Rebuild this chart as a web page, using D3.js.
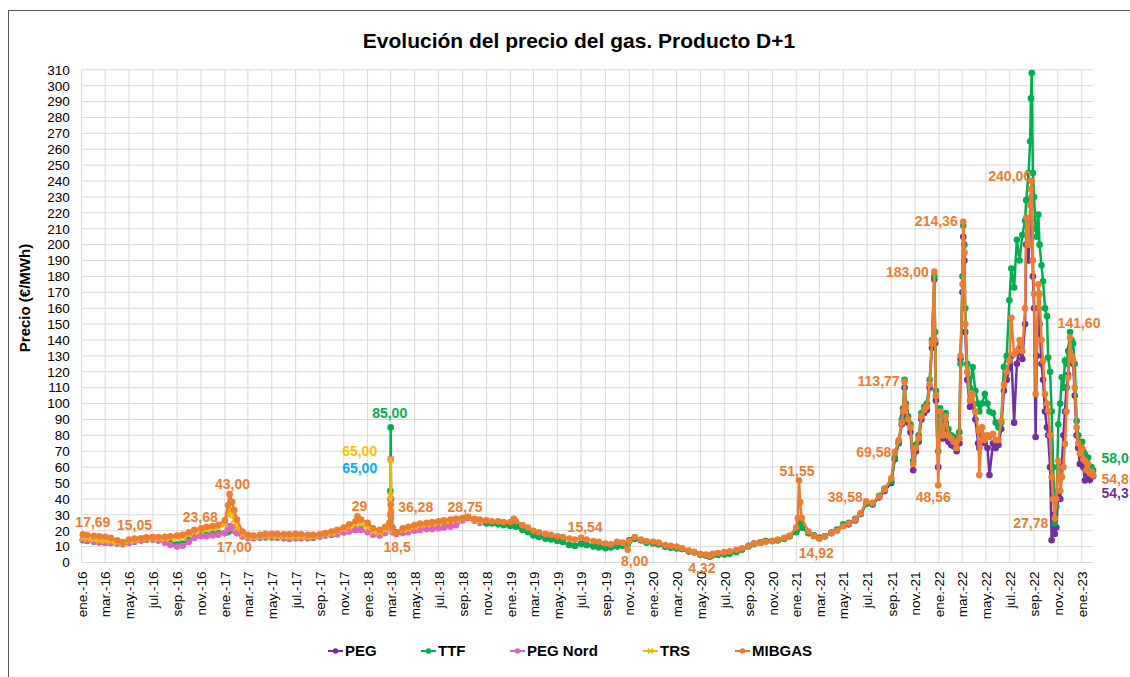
<!DOCTYPE html>
<html>
<head>
<meta charset="utf-8">
<script src="https://cdn.jsdelivr.net/npm/d3@7"></script>
<style>
body { margin: 0; background: #fff; }
svg text { font-family: "Liberation Sans", Arial, sans-serif; }
</style>
</head>
<body>
<svg id="chart" width="1130" height="677"></svg>
<script>
// Fechas comunes a todas las series (lectura aproximada del gráfico)
var fechas = [
    "2016-01-04","2016-01-15","2016-02-01","2016-02-15","2016-03-01","2016-03-15","2016-04-01","2016-04-15","2016-05-01","2016-05-15","2016-06-01","2016-06-15",
    "2016-07-01","2016-07-15","2016-08-01","2016-08-15","2016-09-01","2016-09-15","2016-10-01","2016-10-15","2016-11-01","2016-11-15","2016-12-01","2016-12-15",
    "2017-01-01","2017-01-09","2017-01-13","2017-01-20","2017-01-25","2017-02-01","2017-02-15","2017-03-01","2017-03-15","2017-04-01","2017-04-15","2017-05-01","2017-05-15","2017-06-01",
    "2017-06-15","2017-07-01","2017-07-15","2017-08-01","2017-08-15","2017-09-01","2017-09-15","2017-10-01","2017-10-15","2017-11-01","2017-11-15","2017-12-01","2017-12-06","2017-12-15",
    "2018-01-01","2018-01-15","2018-02-01","2018-02-15","2018-02-26","2018-02-28","2018-03-01","2018-03-02","2018-03-06","2018-03-15","2018-04-01","2018-04-15","2018-05-01","2018-05-15",
    "2018-06-01","2018-06-15","2018-07-01","2018-07-15","2018-08-01","2018-08-15","2018-09-01","2018-09-15","2018-10-01","2018-10-15","2018-11-01","2018-11-15","2018-12-01","2018-12-15",
    "2019-01-01","2019-01-10","2019-01-15","2019-02-01","2019-02-15","2019-03-01","2019-03-15","2019-04-01","2019-04-15","2019-05-01","2019-05-15","2019-06-01","2019-06-15",
    "2019-07-01","2019-07-15","2019-08-01","2019-08-15","2019-09-01","2019-09-15","2019-10-01","2019-10-15","2019-10-28","2019-11-01","2019-11-15","2019-12-01","2019-12-15",
    "2020-01-01","2020-01-15","2020-02-01","2020-02-15","2020-03-01","2020-03-15","2020-04-01","2020-04-15","2020-05-01","2020-05-15","2020-05-25","2020-06-01","2020-06-15",
    "2020-07-01","2020-07-15","2020-08-01","2020-08-15","2020-09-01","2020-09-15","2020-10-01","2020-10-15","2020-11-01","2020-11-15","2020-12-01","2020-12-15",
    "2021-01-01","2021-01-05","2021-01-08","2021-01-11","2021-01-15","2021-02-01","2021-02-15","2021-03-01","2021-03-15","2021-04-01","2021-04-15","2021-05-01","2021-05-15","2021-06-01",
    "2021-06-15","2021-06-29","2021-07-15","2021-08-01","2021-08-15","2021-09-01","2021-09-10","2021-09-20","2021-09-28","2021-10-01","2021-10-05","2021-10-08","2021-10-14","2021-10-20",
    "2021-10-27","2021-11-03","2021-11-10","2021-11-17","2021-11-24","2021-12-01","2021-12-08","2021-12-14","2021-12-20","2021-12-22","2021-12-24","2021-12-30",
    "2022-01-04","2022-01-11","2022-01-18","2022-01-25","2022-02-01","2022-02-08","2022-02-15","2022-02-22","2022-02-25","2022-03-02",
    "2022-03-04","2022-03-07","2022-03-09","2022-03-14","2022-03-21","2022-03-28","2022-04-04","2022-04-11","2022-04-14","2022-04-21",
    "2022-04-28","2022-05-05","2022-05-10","2022-05-19","2022-05-26","2022-06-02","2022-06-09","2022-06-16","2022-06-23","2022-06-30",
    "2022-07-05","2022-07-12","2022-07-19","2022-07-26","2022-08-02","2022-08-09","2022-08-12","2022-08-18","2022-08-22","2022-08-24",
    "2022-08-26","2022-08-29","2022-09-01","2022-09-05","2022-09-08","2022-09-12","2022-09-15","2022-09-20","2022-09-24","2022-09-29",
    "2022-10-04","2022-10-07","2022-10-12","2022-10-16","2022-10-20","2022-10-24","2022-10-28","2022-11-02","2022-11-07","2022-11-11",
    "2022-11-15","2022-11-19","2022-11-23","2022-11-27","2022-12-02","2022-12-06","2022-12-10","2022-12-14","2022-12-19","2022-12-23",
    "2022-12-27",
    "2023-01-02","2023-01-05","2023-01-09","2023-01-13","2023-01-17","2023-01-22","2023-01-26","2023-01-30"
];

var mibgas = [
    17.69,17.2,16.8,16.5,16.2,15.5,14.0,12.8,14.5,15.05,15.3,15.8,16.0,16.0,16.2,16.5,17.0,17.5,19.0,20.5,21.5,22.5,23.0,23.68,
    26.5,36.0,43.0,38.0,33.0,27.0,19.5,17.5,17.0,17.5,18.0,18.0,18.0,17.8,17.8,18.0,17.8,17.5,17.5,17.8,18.5,19.5,20.5,22.0,24.0,26.0,29.0,27.0,
    25.0,21.5,20.5,22.5,24.0,30.0,36.28,28.0,22.0,18.5,21.5,22.5,23.5,24.5,25.0,25.5,26.0,26.5,27.0,27.5,28.0,28.75,27.5,27.0,26.5,26.0,26.0,25.5,
    25.5,27.5,26.0,23.5,22.0,20.0,19.0,18.0,17.5,16.5,16.0,15.0,14.5,15.54,14.5,13.5,13.0,12.0,11.5,13.0,12.5,8.0,13.5,16.0,14.5,13.5,
    13.0,12.5,11.0,10.5,10.0,9.0,7.5,6.5,5.5,5.0,4.32,5.5,6.0,6.5,7.0,8.0,9.0,10.5,12.0,12.5,13.0,13.5,14.5,15.5,17.0,
    22.0,28.0,51.55,38.0,28.0,19.5,16.5,14.92,16.5,18.5,20.0,23.0,24.5,27.0,31.0,38.58,37.5,41.5,46.0,53.0,69.58,77.0,88.0,95.0,113.77,98.0,90.0,85.0,
    62.0,72.0,78.0,92.0,96.0,98.0,112.0,138.0,183.0,140.0,105.0,48.56,
    95,80,92,80,78,76,72,78,130,175,
    214.36,195,150,120,102,106,95,83,55,85,
    77,80,79,81,77,77,89,112,120,127,
    154,131,133,140,133,160,217,200,225,235,
    240,190,169,106,140,175,169,140,127,106,
    100,95.6,80,53.7,40,27.78,40,64,45,53.7,
    60,74.7,95,116.6,141.6,130,127,110,85,75,
    68.6,
    72,65,64,58,62,56,57,54.8
];

var ttf = [
    14.0,13.5,13.0,12.8,12.5,12.3,12.0,11.5,12.5,13.0,13.8,14.3,14.5,13.8,13.0,12.5,11.5,12.0,14.5,16.5,17.5,17.5,18.0,18.5,
    18.5,19.0,20.0,21.0,20.0,18.5,16.5,15.5,15.3,15.5,15.8,15.8,15.5,15.3,15.0,15.3,15.2,15.3,15.5,16.3,17.0,17.5,17.8,19.0,20.0,20.5,21.5,21.0,
    19.5,18.0,17.5,19.0,25.0,45.0,85.0,40.0,20.0,19.0,19.5,20.0,21.5,22.0,22.5,22.5,23.0,23.5,24.5,25.5,27.0,28.0,26.5,25.0,24.5,24.5,24.0,23.5,
    23.0,24.0,22.5,20.5,19.0,17.0,16.0,15.0,14.5,13.5,13.0,11.0,10.5,11.5,11.0,10.0,9.5,9.0,9.5,10.0,10.5,11.5,13.5,15.5,14.0,12.5,
    12.0,11.5,10.0,9.5,9.0,8.5,7.0,6.5,5.0,4.5,3.8,4.5,4.8,5.0,5.5,6.5,8.0,10.0,11.5,12.5,13.5,13.5,14.0,15.0,16.5,
    19.0,22.0,26.0,24.0,22.0,18.5,17.0,15.5,16.5,19.0,20.5,24.0,25.0,27.5,31.0,37.0,37.0,42.0,46.5,51.0,66.0,76.0,90.0,97.0,115.0,100.0,92.0,87.0,
    64.0,74.0,80.0,94.0,98.0,100.0,115.0,140.0,180.0,145.0,108.0,70.0,
    97,85,94,84,80,79,76,82,125,180,
    212,200,160,125,110,123,108,100,95,100,
    106,100,95,94,88,85,88,123,130,165,
    185,173,203,190,206,215,228,245,265,292,
    308,245,230,210,205,219,200,187,177,160,
    155,129,120,95,60,24.5,35,87,100,116.6,
    110,127,125,133,145,140,137.8,125,89,80,
    75,
    76,70,68,63,66,58,60,58.0
];

// PEG Nord y TRS: desde el inicio hasta oct.-18
var pegNord = [
    14.5,14.0,13.2,12.8,12.6,12.4,12.2,11.8,12.8,13.2,14.0,14.5,14.5,14.0,12.5,11.0,10.0,10.5,13.0,15.5,16.5,16.5,17.0,17.5,
    18.5,21.0,23.0,22.5,20.5,18.5,16.5,15.5,15.5,15.8,16.0,16.0,15.8,15.5,15.2,15.5,15.5,15.5,15.8,16.5,17.2,17.5,18.0,19.0,19.5,20.5,21.0,20.5,
    19.0,17.5,17.0,18.5,23.0,40.0,65.0,32.0,19.0,18.0,18.5,19.0,20.0,20.5,21.0,21.0,21.5,22.0,22.5,23.5,26.5,28.0,26.5,25.5
];

var trs = [
    15.5,15.0,14.5,14.0,13.8,13.5,12.8,12.0,13.5,14.0,14.8,15.2,15.3,15.0,15.0,15.2,15.5,16.0,17.5,19.0,20.0,21.0,21.5,22.0,
    24.0,30.0,33.0,31.0,27.0,22.0,17.5,16.5,16.0,16.5,16.8,16.8,16.5,16.3,16.0,16.3,16.2,16.2,16.5,17.0,17.8,18.5,19.5,21.0,22.5,24.0,25.5,24.5,
    22.0,19.5,19.0,20.5,24.0,42.0,65.0,35.0,20.5,19.0,20.5,21.0,22.5,23.5,24.0,24.5,25.0,25.5,26.0,27.0,27.5,28.5,27.0,26.0
];

// PEG: desde nov.-18
var pegInicio = "2018-11-01";
var peg = [
    25.0,25.0,24.5,24.0,
    23.5,24.5,23.0,21.0,19.5,17.5,16.5,15.5,15.0,14.0,13.0,11.0,10.5,12.0,11.0,10.5,10.0,9.5,10.0,10.5,11.0,12.0,14.0,15.0,14.0,13.0,
    12.5,11.5,10.0,9.5,9.0,8.5,7.0,6.5,5.0,4.5,3.8,4.8,5.0,5.5,6.0,7.0,8.5,10.5,12.0,12.5,13.5,13.5,14.0,15.0,16.5,
    19.5,22.5,27.0,25.0,22.0,18.5,17.0,15.5,16.5,18.5,20.5,23.0,24.0,26.5,30.5,37.0,36.5,41.0,45.0,50.0,65.0,75.0,87.0,92.0,110.0,95.0,88.0,82.0,
    58.0,70.0,76.0,90.0,94.0,96.0,110.0,135.0,178.0,138.0,102.0,60.0,
    93,78,88,76,74,73,70,75,128,170,
    205,190,145,115,98,100,90,75,72,80,
    75,72,55,75,72,74,84,108,115,122,
    130,88,125,135,128,150,200,190,215,225,
    230,180,160,79,130,160,150,125,115,95,
    85,80,60,14,30,18,22,45,40,60,
    80,95,110,118,135,130,125,105,80,72,
    62,
    66,60,51.6,55,58,52,55,54.3
];

var nombresSeries = ["PEG", "TTF", "PEG Nord", "TRS", "MIBGAS"];
var coloresSeries = ["#7030A0", "#00B050", "#E060C8", "#F2B705", "#ED7D31"];
var mesesCortos = ["ene.", "feb.", "mar.", "abr.", "may.", "jun.", "jul.", "ago.", "sep.", "oct.", "nov.", "dic."];
var ticksY = d3.range(0, 311, 10);

// Etiquetas de valores destacados
var etiquetas = [
    { serie: "MIBGAS", fecha: "2016-01-04", texto: "17,69" },
    { serie: "MIBGAS", fecha: "2016-05-15", texto: "15,05" },
    { serie: "MIBGAS", fecha: "2016-12-15", texto: "23,68" },
    { serie: "MIBGAS", fecha: "2017-01-13", texto: "43,00" },
    { serie: "MIBGAS", fecha: "2017-03-15", texto: "17,00" },
    { serie: "MIBGAS", fecha: "2017-12-06", texto: "29" },
    { serie: "TTF", fecha: "2018-03-01", texto: "85,00" },
    { serie: "TRS", fecha: "2018-03-01", texto: "65,00" },
    { serie: "PEG Nord", fecha: "2018-03-01", texto: "65,00" },
    { serie: "MIBGAS", fecha: "2018-03-01", texto: "36,28" },
    { serie: "MIBGAS", fecha: "2018-03-15", texto: "18,5" },
    { serie: "MIBGAS", fecha: "2018-09-15", texto: "28,75" },
    { serie: "MIBGAS", fecha: "2019-07-01", texto: "15,54" },
    { serie: "MIBGAS", fecha: "2019-10-28", texto: "8,00" },
    { serie: "MIBGAS", fecha: "2020-05-25", texto: "4,32" },
    { serie: "MIBGAS", fecha: "2021-01-08", texto: "51,55" },
    { serie: "MIBGAS", fecha: "2021-03-01", texto: "14,92" },
    { serie: "MIBGAS", fecha: "2021-06-29", texto: "38,58" },
    { serie: "MIBGAS", fecha: "2021-09-10", texto: "69,58" },
    { serie: "MIBGAS", fecha: "2021-10-05", texto: "113,77" },
    { serie: "MIBGAS", fecha: "2021-12-20", texto: "183,00" },
    { serie: "MIBGAS", fecha: "2021-12-30", texto: "48,56" },
    { serie: "MIBGAS", fecha: "2022-03-04", texto: "214,36" },
    { serie: "MIBGAS", fecha: "2022-08-26", texto: "240,00" },
    { serie: "MIBGAS", fecha: "2022-10-24", texto: "27,78" },
    { serie: "MIBGAS", fecha: "2022-12-02", texto: "141,60" },
    { serie: "TTF", fecha: "2023-01-30", texto: "58,0" },
    { serie: "MIBGAS", fecha: "2023-01-30", texto: "54,8" },
    { serie: "PEG", fecha: "2023-01-30", texto: "54,3" }
];
// desplazamiento (px) del centro de cada etiqueta respecto a su punto
var desplazamientos = [
    [10, -12], [0, -13], [-18, -8], [3, -10], [-19, 12], [2, -10], [-1, -14], [-31, -8], [-31, 9], [25, 2],
    [1, 14], [-3, -10], [4, -11], [7, 11], [-8, 12], [-2, -9], [-3, 14], [-21, -4], [-21, 0], [-26, -1],
    [-27, 0], [-5, 12], [-27, -1], [-22, -5], [-24, 5], [9, -14], [22, -12], [22, 4], [22, 17]
];
var coloresEtiquetas = { "MIBGAS": "#ED7D31", "TTF": "#00B050", "TRS": "#FFC000", "PEG Nord": "#00B0F0", "PEG": "#7030A0" };

var parseFecha = d3.timeParse("%Y-%m-%d");

function setupSeries() {
    var inicioPeg = fechas.indexOf(pegInicio);
    var valores = [
        fechas.slice(inicioPeg).map(function (f, i) { return { x: f, y: peg[i] }; }),
        fechas.map(function (f, i) { return { x: f, y: ttf[i] }; }),
        pegNord.map(function (v, i) { return { x: fechas[i], y: v }; }),
        trs.map(function (v, i) { return { x: fechas[i], y: v }; }),
        fechas.map(function (f, i) { return { x: f, y: mibgas[i] }; })
    ];
    return nombresSeries.map(function (nombre, i) {
        return { nombre: nombre, color: coloresSeries[i], puntos: valores[i] };
    });
}

function drawChart() {
    var series = setupSeries();
    var svg = d3.select("#chart");
    var left = 81.7, right = 1093.5, top = 69.8, bottom = 562.5;

    var xRange = d3.scaleTime()
        .domain([new Date(2016, 0, 1), new Date(2023, 0, 31)])
        .range([left, right]);
    var yRange = d3.scaleLinear().domain([0, 310]).range([bottom, top]);

    svg.append("rect")
        .attr("x", 0).attr("y", 0).attr("width", 1130).attr("height", 677)
        .attr("fill", "#fff");
    svg.append("rect")
        .attr("x", 8.5).attr("y", 10.5).attr("width", 1130).attr("height", 700)
        .attr("fill", "none").attr("stroke", "#595959").attr("stroke-width", 1);

    svg.append("text")
        .attr("x", 579).attr("y", 48)
        .attr("text-anchor", "middle")
        .style("font-size", "21px").style("font-weight", "bold")
        .text("Evolución del precio del gas. Producto D+1");

    var mesesTicks = d3.timeMonth.every(2).range(new Date(2016, 0, 1), new Date(2023, 0, 2));

    // rejilla
    var grid = svg.append("g").attr("stroke", "#d9d9d9").attr("stroke-width", 1);
    grid.selectAll(".h").data(ticksY).enter().append("line")
        .attr("x1", left).attr("x2", right)
        .attr("y1", function (d) { return yRange(d); })
        .attr("y2", function (d) { return yRange(d); });
    grid.selectAll(".v").data(mesesTicks).enter().append("line")
        .attr("x1", function (d) { return xRange(d); })
        .attr("x2", function (d) { return xRange(d); })
        .attr("y1", top).attr("y2", bottom);

    var yAxis = d3.axisLeft(yRange).tickValues(ticksY).tickSize(0).tickPadding(12);
    var gy = svg.append("g")
        .attr("transform", "translate(" + left + ",0)")
        .call(yAxis);
    gy.select(".domain").remove();
    gy.selectAll("text").style("font-size", "13.5px").style("font-family", "Liberation Sans, Arial, sans-serif").attr("fill", "#000");

    var xAxis = d3.axisBottom(xRange)
        .tickValues(mesesTicks)
        .tickSize(0)
        .tickFormat(function (d) {
            return mesesCortos[d.getMonth()] + "-" + d3.timeFormat("%y")(d);
        });
    var gx = svg.append("g")
        .attr("transform", "translate(0," + bottom + ")")
        .call(xAxis);
    gx.select(".domain").remove();
    gx.selectAll("text")
        .attr("transform", "rotate(-90)")
        .attr("x", -9).attr("y", 0).attr("dy", "0.35em")
        .style("text-anchor", "end")
        .style("font-size", "13.5px").style("font-family", "Liberation Sans, Arial, sans-serif")
        .attr("fill", "#000");

    svg.append("text")
        .attr("transform", "translate(25,298) rotate(-90)")
        .attr("text-anchor", "middle").attr("dy", "0.35em")
        .style("font-size", "15px").style("font-weight", "bold")
        .text("Precio (€/MWh)");

    var lineFunc = d3.line()
        .x(function (d) { return xRange(parseFecha(d.x)); })
        .y(function (d) { return yRange(d.y); });

    series.forEach(function (s) {
        var g = svg.append("g");
        g.append("path")
            .attr("d", lineFunc(s.puntos))
            .attr("stroke", s.color).attr("stroke-width", 2.5)
            .attr("fill", "none");
        if (s.nombre === "TRS") {
            g.selectAll("path.m").data(s.puntos).enter().append("path")
                .attr("class", "m")
                .attr("transform", function (d) {
                    return "translate(" + xRange(parseFecha(d.x)) + "," + yRange(d.y) + ")";
                })
                .attr("d", "M-3,-3L3,3M-3,3L3,-3")
                .attr("stroke", s.color).attr("stroke-width", 1.8);
        } else {
            g.selectAll("circle").data(s.puntos).enter().append("circle")
                .attr("cx", function (d) { return xRange(parseFecha(d.x)); })
                .attr("cy", function (d) { return yRange(d.y); })
                .attr("r", 3.3)
                .attr("fill", s.color);
        }
    });

    // etiquetas de datos
    etiquetas.forEach(function (e, i) {
        var s = series[nombresSeries.indexOf(e.serie)];
        var p = s.puntos.filter(function (d) { return d.x === e.fecha; })[0];
        svg.append("text")
            .attr("x", xRange(parseFecha(p.x)) + desplazamientos[i][0])
            .attr("y", yRange(p.y) + desplazamientos[i][1])
            .attr("dy", "0.35em")
            .attr("text-anchor", "middle")
            .attr("fill", coloresEtiquetas[e.serie])
            .style("font-size", "14px").style("font-weight", "bold")
            .text(e.texto);
    });

    // leyenda
    var leyendaX = [328, 421, 510, 643, 735];
    var leyenda = svg.append("g");
    series.forEach(function (s, i) {
        var g = leyenda.append("g").attr("transform", "translate(" + leyendaX[i] + ",651)");
        g.append("line").attr("x1", 0).attr("x2", 15)
            .attr("stroke", s.color).attr("stroke-width", 2);
        if (s.nombre === "TRS") {
            g.append("path").attr("d", "M5,-2.5L10,2.5M5,2.5L10,-2.5")
                .attr("stroke", s.color).attr("stroke-width", 1.5);
        } else {
            g.append("circle").attr("cx", 7.5).attr("r", 2.7).attr("fill", s.color);
        }
        g.append("text").attr("x", 17).attr("dy", "0.35em")
            .style("font-size", "15px").style("font-weight", "bold")
            .text(s.nombre);
    });
}

drawChart();
</script>
</body>
</html>
